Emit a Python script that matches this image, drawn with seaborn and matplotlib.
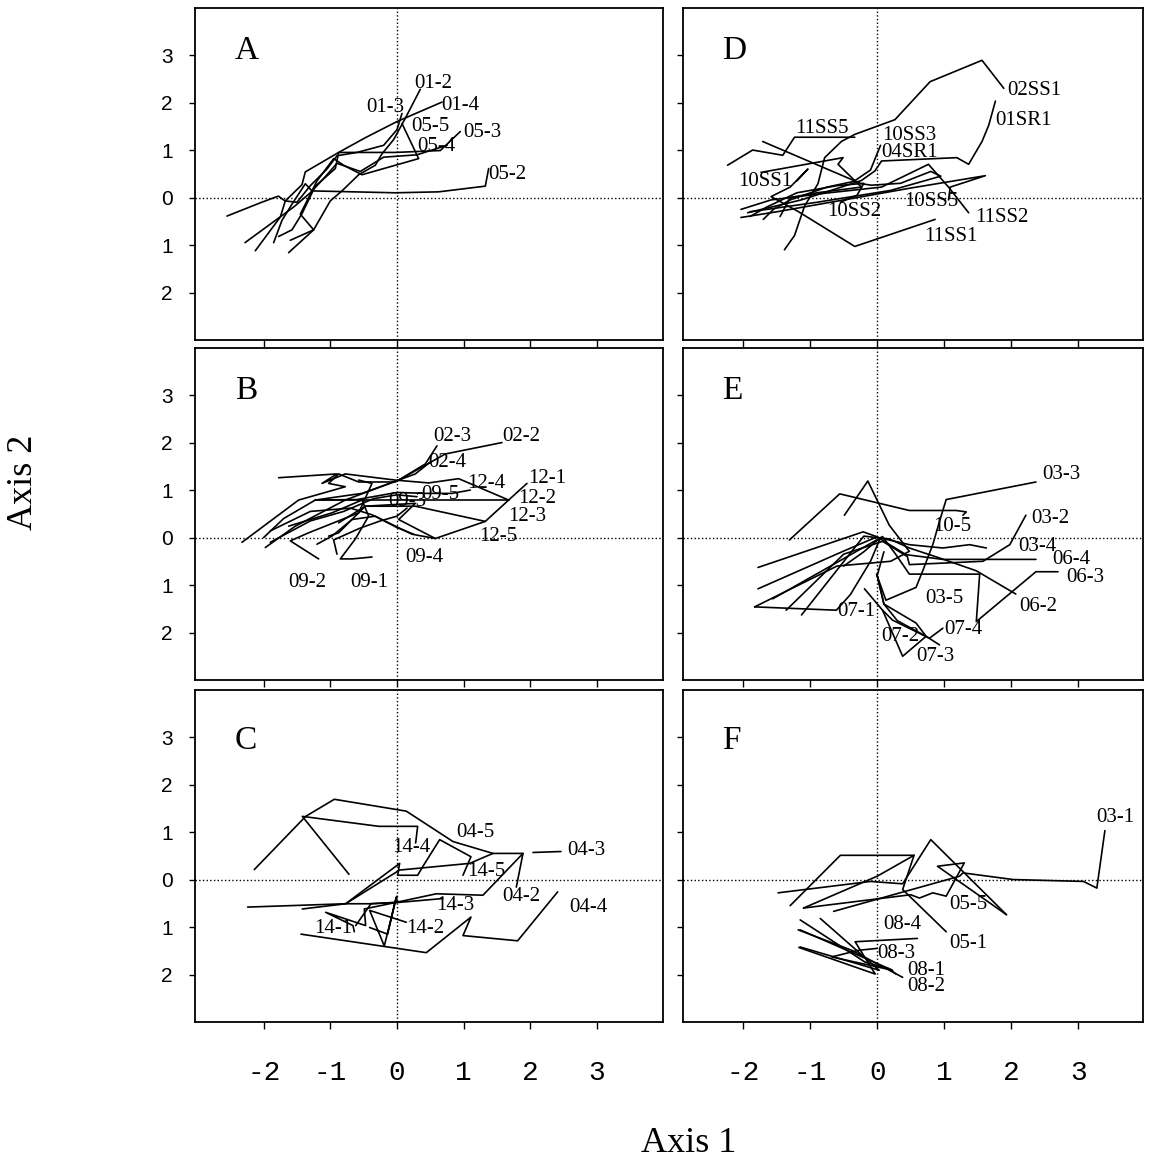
import pandas as pd
import matplotlib.pyplot as plt
import seaborn as sns

sns.set_style("white")
plt.rcParams['font.family'] = ['Liberation Serif', 'DejaVu Serif']
plt.rcParams['text.color'] = 'black'
plt.rcParams['xtick.color'] = 'black'
plt.rcParams['ytick.color'] = 'black'

# axis ticks
x_ticks = [-2, -1, 0, 1, 2, 3]
x_tick_labels = ['-2', '-1', '0', '1', '2', '3']
y_ticks = [3, 2, 1, 0, -1, -2]
y_tick_labels = ['3', '2', '1', '0', '1', '2']

# panel A: trajectories (axis1, axis2) and label positions
traj_a = {
    "01-2": [(0.35, 2.28), (0.125, 1.67), (-0.05, 1.22), (-0.225, 0.92), (-0.325, 0.68), (-0.575, 0.48),
             (-0.825, 0.14), (-1.0, -0.07), (-1.25, -0.68), (-1.625, -1.16)],
    "01-4": [(0.675, 2.01), (0.0, 1.60), (-0.475, 1.26), (-0.875, 0.95), (-1.375, 0.54), (-1.425, 0.27),
             (-1.675, -0.07), (-1.75, -0.41), (-2.125, -1.12)],
    "01-3": [(0.075, 1.77), (0.0, 1.43), (-0.2, 1.1), (-0.6, 0.95), (-0.9, 0.88), (-1.05, 0.6), (-1.3, 0.25),
             (-1.5, -0.1), (-1.68, -0.07), (-1.78, 0.03), (-2.03, -0.1), (-2.55, -0.39)],
    "05-2": [(1.375, 0.61), (1.325, 0.24), (0.625, 0.12), (-0.025, 0.10), (-1.275, 0.14), (-1.375, 0.29),
             (-1.575, -0.14), (-1.725, -0.48), (-1.85, -0.95)],
    "05-3": [(0.95, 1.39), (0.65, 0.99), (-0.025, 0.95), (-0.875, 0.95), (-0.925, 0.61), (-1.225, 0.24),
             (-1.425, -0.34), (-1.575, -0.68), (-1.775, -0.82)],
    "05-4": [(0.75, 1.1), (0.3, 0.9), (-0.2, 0.85), (-0.55, 0.55), (-0.9, 0.72), (-1.1, 0.4), (-1.3, 0.1),
             (-1.55, -0.2), (-2.28, -0.95)],
    "05-5": [(0.075, 1.56), (0.325, 0.82), (-0.525, 0.48), (-0.8, 0.68), (-0.95, 0.82), (-1.2, 0.35),
             (-1.45, -0.35), (-1.25, -0.68), (-1.6, -0.9)],
}
labels_a = {"01-2": (0.265, 2.41), "01-3": (-0.46, 1.90), "01-4": (0.665, 1.94), "05-5": (0.215, 1.50),
            "05-4": (0.3, 1.08), "05-3": (0.99, 1.37), "05-2": (1.375, 0.49)}

# panel B
traj_b = {
    "02-2": [(1.575, 2.0), (0.725, 1.76), (-0.025, 1.17), (-0.575, 1.17), (-0.875, 1.34), (-1.025, 1.14),
             (-0.775, 1.07), (-1.475, 0.79), (-2.325, -0.10)],
    "02-3": [(0.6, 1.93), (0.425, 1.55), (0.025, 1.21), (-0.525, 0.93), (-1.225, 0.79), (-1.7, 0.4), (-2.0, 0.0)],
    "02-4": [(0.5, 1.59), (0.275, 1.34), (-0.375, 1.0), (-0.775, 0.79), (-1.525, 0.24), (-1.975, -0.21)],
    "12-1": [(1.95, 1.14), (1.675, 0.79), (1.325, 0.34), (0.575, -0.02), (0.025, 0.38), (0.275, 0.72),
             (-0.475, 0.66), (-0.875, 0.31)],
    "12-2": [(1.675, 0.79), (0.925, 1.24), (0.475, 1.15), (-0.025, 1.21), (-0.775, 1.34), (-1.125, 1.14),
             (-0.9, 1.34), (-1.775, 1.26)],
    "12-3": [(1.325, 0.34), (0.275, 0.66), (-0.475, 0.66), (-0.875, 0.1), (-1.025, 0.03)],
    "12-4": [(1.1, 1.0), (0.825, 0.93), (0.425, 0.93), (0.0, 0.95), (-0.6, 0.8), (-1.225, 0.79)],
    "12-5": [(0.575, -0.02), (0.225, 0.07), (-0.375, 0.48), (-0.7, 0.62), (-1.3, 0.55), (-1.9, 0.14)],
    "09-1": [(-0.375, -0.41), (-0.675, -0.45), (-0.85, -0.45), (-0.625, -0.03), (-0.425, 0.45), (-0.525, 0.79),
             (-0.975, 0.52), (-1.625, 0.24)],
    "09-2": [(-1.175, -0.45), (-1.6, -0.07), (-1.325, 0.1), (-0.575, 0.52), (-0.375, 1.14), (-0.575, 1.21)],
    "09-4": [(0.25, 0.07), (0.0, 0.21), (-0.325, 0.45), (-0.675, 0.38), (-0.975, 0.03), (-1.2, -0.14)],
    "09-5": [(0.3, 0.86), (0.0, 0.9), (-0.35, 0.82), (-0.8, 0.55), (-1.3, 0.35), (-1.9, -0.1)],
    "09-3": [(0.15, 0.62), (0.0, 0.45), (-0.25, 0.35), (-0.55, 0.2), (-0.95, -0.05), (-0.9, -0.35)],
    "12-2b": [(1.675, 0.79), (0.9, 0.79), (-1.225, 0.79)],
}
labels_b = {"02-3": (0.54, 2.12), "02-2": (1.575, 2.12), "02-4": (0.475, 1.59), "12-1": (1.965, 1.24),
            "12-4": (1.05, 1.14), "12-2": (1.825, 0.83), "09-5": (0.365, 0.90), "09-3": (-0.125, 0.76),
            "12-3": (1.675, 0.45), "12-5": (1.24, 0.02), "09-4": (0.125, -0.41), "09-2": (-1.625, -0.94),
            "09-1": (-0.7, -0.94)}

# panel C
traj_c = {
    "04-3": [(2.46, 0.59), (2.04, 0.57)],
    "04-3b": [(1.89, 0.55), (1.44, 0.55), (0.84, 0.80), (0.14, 1.44), (-0.94, 1.69), (-1.37, 1.33), (-2.14, 0.21)],
    "04-5": [(0.28, 0.77), (0.31, 1.12), (-0.27, 1.12), (-1.42, 1.33), (-0.72, 0.11)],
    "14-4": [(0.99, 0.09), (1.11, 0.48), (0.64, 0.84), (0.39, 0.28), (0.31, 0.09), (0.01, 0.09), (0.04, 0.34),
             (-0.77, -0.51)],
    "14-5": [(1.44, 0.55), (1.09, 0.34), (0.04, 0.20), (-0.77, -0.51), (-1.42, -0.62)],
    "04-2": [(1.79, -0.16), (1.89, 0.55), (1.29, -0.33), (0.59, -0.30), (-0.01, -0.48), (-0.39, -0.51),
             (-0.62, -0.97)],
    "04-4": [(2.41, -0.26), (1.81, -1.29), (0.99, -1.18), (1.11, -0.79), (0.44, -1.54), (-1.44, -1.15)],
    "14-3": [(0.69, -0.40), (0.04, -0.48), (-0.41, -0.51), (-0.77, -0.51), (-2.24, -0.58)],
    "14-1": [(-0.64, -1.1), (-0.66, -0.97), (-1.07, -0.69), (-0.47, -0.97), (-0.49, -0.62), (-0.01, -0.48),
             (0.0, -0.35)],
    "14-2": [(0.14, -0.90), (-0.41, -0.65), (-0.19, -1.40), (-0.01, -0.37), (-0.14, -1.15), (-0.41, -1.01)],
}
labels_c = {"04-5": (0.885, 0.98), "04-3": (2.56, 0.62), "14-4": (-0.075, 0.68), "14-5": (1.06, 0.16),
            "04-2": (1.575, -0.35), "04-4": (2.585, -0.58), "14-3": (0.585, -0.55), "14-1": (-1.24, -1.04),
            "14-2": (0.135, -1.04)}

# panel D
traj_d = {
    "02SS1": [(1.89, 2.30), (1.565, 2.89), (0.79, 2.44), (0.265, 1.64), (-0.335, 1.33), (-0.535, 1.18),
              (-0.785, 0.84), (-0.885, 0.29), (-1.085, -0.18), (-1.235, -0.80), (-1.385, -1.10)],
    "01SR1": [(1.765, 2.03), (1.665, 1.52), (1.565, 1.18), (1.365, 0.70), (1.19, 0.84), (0.065, 0.77),
              (-0.035, 0.56), (-0.235, 0.36), (-0.535, 0.22), (-1.135, -0.05), (-1.935, -0.32)],
    "11SS5": [(-0.335, 1.27), (-1.235, 1.27), (-1.41, 0.89), (-1.86, 1.0), (-2.235, 0.68)],
    "10SS3": [(0.05, 1.1), (-0.1, 0.58), (-0.35, 0.34), (-0.75, 0.22), (-1.3, -0.05), (-1.55, -0.25), (-1.7, -0.46)],
    "04SR1": [(-1.71, 1.18), (-0.235, 0.29), (-0.085, 0.26), (0.35, 0.3), (0.8, 0.55), (0.95, 0.45), (0.2, 0.15),
              (-0.9, -0.1), (-1.9, -0.3)],
    "11SS1": [(0.865, -0.46), (-0.335, -1.03), (-1.185, -0.29), (-1.585, 0.02), (-1.3, 0.22), (-1.035, 0.6),
              (-1.2, 0.35)],
    "11SS2": [(1.365, -0.32), (1.065, 0.22), (0.765, 0.70), (0.065, 0.22), (-0.785, 0.09), (-1.585, -0.05),
              (-2.035, -0.25)],
    "10SS5": [(1.065, -0.05), (1.09, 0.22), (1.615, 0.46), (0.5, 0.2), (-0.5, -0.05), (-1.5, -0.3), (-2.035, -0.42)],
    "10SS2": [(-0.55, -0.1), (-0.3, 0.05), (-0.2, 0.3), (-0.6, 0.25), (-1.2, 0.1), (-1.65, -0.2), (-1.9, -0.4)],
    "10SS1": [(-1.735, 0.53), (-0.51, 0.84), (-0.585, 0.7), (-0.235, 0.22), (-0.9, 0.1), (-1.3, 0.0), (-1.45, -0.4)],
}
labels_d = {"02SS1": (1.94, 2.25), "01SR1": (1.765, 1.62), "11SS5": (-1.225, 1.45), "10SS3": (0.08, 1.31),
            "04SR1": (0.055, 0.94), "10SS1": (-2.07, 0.33), "10SS2": (-0.745, -0.29), "10SS5": (0.405, -0.08),
            "11SS2": (1.465, -0.42), "11SS1": (0.705, -0.83)}

# panel E
traj_e = {
    "03-3": [(2.37, 1.17), (1.03, 0.80), (0.93, 0.34), (0.83, -0.15), (0.68, -0.70), (0.58, -1.05), (0.13, -1.32),
             (-0.01, -0.77)],
    "03-2": [(2.22, 0.47), (1.98, -0.15), (1.58, -0.50), (0.48, -0.57), (0.45, -0.4), (0.08, -0.08), (-0.5, -0.35),
             (-1.36, -1.53)],
    "03-4": [(1.63, -0.22), (1.38, -0.15), (0.98, -0.22), (0.48, -0.15), (-0.01, 0.01), (-0.51, -0.29),
             (-1.78, -1.08)],
    "06-4": [(2.37, -0.46), (0.98, -0.46), (0.43, -0.36), (-0.01, 0.02), (-0.21, 0.12), (-1.78, -0.63)],
    "06-3": [(2.70, -0.72), (2.37, -0.72), (1.48, -1.77), (1.53, -0.77), (0.48, -0.77), (0.28, -0.36), (0.08, 0.02),
             (-1.56, -1.29)],
    "06-2": [(2.07, -1.19), (1.48, -0.70), (0.93, -0.43), (0.48, -0.22), (0.18, -0.03), (-0.2, 0.03), (-1.13, -1.63)],
    "10-5": [(1.28, 0.47), (1.33, 0.54), (1.18, 0.57), (0.48, 0.57), (-0.56, 0.92), (-1.31, -0.05)],
    "03-5": [(-0.49, 0.47), (-0.14, 1.19), (0.18, 0.26), (0.48, -0.29), (0.2, -0.5), (-0.6, -0.6), (-1.83, -1.46)],
    "07-1": [(-1.83, -1.46), (-0.61, -1.53), (-0.4, -1.2), (-0.1, -0.5), (0.05, 0.0), (-0.2, -0.3), (-0.5, -0.6)],
    "07-2": [(0.08, -1.53), (0.38, -2.5), (0.73, -2.08), (0.58, -1.8), (0.1, -1.4), (0.0, -0.8)],
    "07-3": [(0.93, -2.26), (0.73, -2.08), (0.3, -1.75), (0.1, -1.4), (0.0, -0.8), (0.1, -0.3)],
    "07-4": [(0.98, -1.91), (0.78, -2.12), (0.23, -1.74), (0.08, -1.53), (-0.19, -1.08)],
}
labels_e = {"03-3": (2.46, 1.33), "03-2": (2.30, 0.40), "10-5": (0.83, 0.23), "03-4": (2.10, -0.19),
            "06-4": (2.62, -0.46), "06-3": (2.83, -0.84), "03-5": (0.72, -1.29), "06-2": (2.12, -1.46),
            "07-1": (-0.59, -1.55), "07-4": (1.0, -1.93), "07-2": (0.06, -2.08), "07-3": (0.59, -2.50)}

# panel F
traj_f = {
    "03-1": [(3.4, 1.03), (3.28, -0.18), (3.08, -0.04), (2.03, 0.0), (1.28, 0.14), (1.23, 0.07), (-0.65, -0.67)],
    "05-5": [(1.93, -0.74), (0.8, 0.84), (0.38, -0.09), (-0.1, -0.04), (-1.48, -0.28)],
    "05-5b": [(1.93, -0.74), (0.9, 0.28), (1.3, 0.35), (1.03, -0.35), (0.83, -0.28), (0.63, -0.39), (0.5, -0.32),
              (-1.1, -0.6)],
    "05-1": [(1.03, -1.1), (0.38, -0.21), (0.55, 0.51), (-0.55, 0.51), (-1.3, -0.55)],
    "05-1b": [(0.55, 0.51), (0.0, 0.07), (-1.1, -0.6)],
    "08-4": [(0.6, -1.24), (-0.33, -1.31), (-0.03, -1.99), (-1.17, -1.43)],
    "08-3": [(0.0, -1.45), (-0.28, -1.49), (-0.68, -1.63), (0.23, -1.91), (-1.15, -1.06)],
    "08-1": [(0.28, -1.99), (0.18, -1.88), (-0.18, -1.74), (-1.15, -0.85)],
    "08-2": [(0.38, -2.06), (-0.38, -1.49), (-1.18, -1.06)],
    "08-5": [(-0.85, -0.82), (0.03, -1.91), (-1.15, -1.42)],
}
labels_f = {"03-1": (3.265, 1.31), "05-5": (1.075, -0.53), "08-4": (0.085, -0.94), "05-1": (1.075, -1.35),
            "08-3": (0.0, -1.56), "08-1": (0.45, -1.91), "08-2": (0.45, -2.26)}


def to_frame(trajs):
    rows = []
    for name, pts in trajs.items():
        for i, (x, y) in enumerate(pts):
            rows.append({'traj': name, 'step': i, 'x': x, 'y': y})
    return pd.DataFrame(rows)


def draw_panel(ax, letter, trajs, labels, xlim, left_col, bottom_row):
    df = to_frame(trajs)
    ax.axhline(0, color='black', ls=':', lw=1)
    ax.axvline(0, color='black', ls=':', lw=1)
    sns.lineplot(data=df, x='x', y='y', units='traj', estimator=None, sort=False,
                 color='black', lw=1.2, ax=ax, legend=False)
    for text, (x, y) in labels.items():
        ax.text(x, y, text, fontsize=15, ha='left', va='center', color='black')
    ax.text(0.085, 0.87 if letter in 'ABDE' else 0.845, letter, transform=ax.transAxes,
            fontsize=24, va='center', ha='left', color='black')
    ax.set_xlim(*xlim)
    ax.set_ylim(-3.0, 4.0)
    ax.set_xticks(x_ticks)
    ax.set_yticks(y_ticks)
    if bottom_row:
        ax.set_xticklabels(x_tick_labels, fontfamily='Liberation Mono', fontsize=20)
    else:
        ax.set_xticklabels([])
    if left_col:
        ax.set_yticklabels(y_tick_labels, fontfamily='Liberation Sans', fontsize=15)
    else:
        ax.set_yticklabels([])
    ax.tick_params(axis='x', direction='out', length=5, width=1, pad=22, bottom=True, colors='black')
    ax.tick_params(axis='y', direction='out', length=4, width=1, pad=12, left=True, colors='black')
    ax.set_xlabel('')
    ax.set_ylabel('')
    for sp in ax.spines.values():
        sp.set_color('black')
        sp.set_linewidth(1.3)
        sp.set_visible(True)


fig = plt.figure(figsize=(11.51, 11.68), dpi=100)

left_x, left_w = 0.1694, 0.4066
right_x, right_w = 0.5934, 0.3997
rows_y = [0.7089, 0.4178, 0.1250]
row_h = 0.2846

panels = [
    ('A', traj_a, labels_a, 0, 0), ('B', traj_b, labels_b, 0, 1), ('C', traj_c, labels_c, 0, 2),
    ('D', traj_d, labels_d, 1, 0), ('E', traj_e, labels_e, 1, 1), ('F', traj_f, labels_f, 1, 2),
]
for letter, trajs, labels, col, row in panels:
    if col == 0:
        ax = fig.add_axes([left_x, rows_y[row], left_w, row_h])
        xlim = (-3.03, 3.99)
    else:
        ax = fig.add_axes([right_x, rows_y[row], right_w, row_h])
        xlim = (-2.9, 3.97)
    draw_panel(ax, letter, trajs, labels, xlim, col == 0, row == 2)

fig.text(0.020, 0.587, 'Axis 2', rotation=90, fontsize=26, ha='center', va='center', color='black')
fig.text(0.598, 0.0214, 'Axis 1', fontsize=26, ha='center', va='center', color='black')

plt.savefig('out.png', dpi=100)
